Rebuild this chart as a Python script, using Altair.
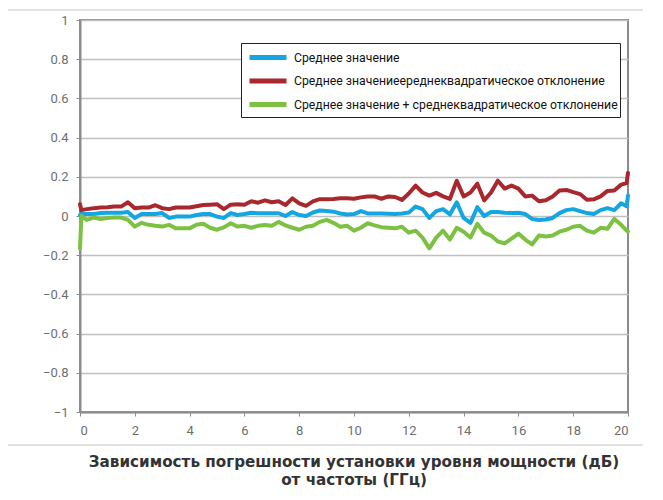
import altair as alt
import pandas as pd

freq = [0.0, 0.05] + [0.25 * i for i in range(1, 80)] + [19.95, 20.0]

mean_vals = [
    0.005, 0.01,
    0.01, 0.01, 0.015, 0.017, 0.017, 0.017, 0.02, -0.01,
    0.01, 0.01, 0.01, 0.015, -0.01, -0.003, -0.003, -0.003,
    0.005, 0.01, 0.01, -0.003, -0.01, 0.015, 0.005, 0.01,
    0.017, 0.014, 0.014, 0.014, 0.014, 0.0, 0.02, 0.005,
    0.0, 0.018, 0.028, 0.025, 0.022, 0.013, 0.008, 0.01,
    0.025, 0.013, 0.013, 0.013, 0.012, 0.01, 0.013, 0.018,
    0.048, 0.035, -0.01, 0.025, 0.035, 0.008, 0.07, -0.01,
    -0.035, 0.045, 0.0, 0.02, 0.02, 0.017, 0.015, 0.017,
    0.01, -0.015, -0.02, -0.018, -0.01, 0.015, 0.03, 0.035,
    0.025, 0.015, 0.01, 0.03, 0.04, 0.03, 0.065,
    0.05, 0.105,
]

upper_vals = [
    0.06, 0.03,
    0.035, 0.04, 0.043, 0.045, 0.048, 0.048, 0.07, 0.04,
    0.043, 0.043, 0.055, 0.04, 0.035, 0.043, 0.043, 0.043,
    0.05, 0.056, 0.058, 0.06, 0.035, 0.058, 0.06, 0.057,
    0.075, 0.068, 0.08, 0.07, 0.075, 0.056, 0.09, 0.065,
    0.052, 0.075, 0.086, 0.086, 0.087, 0.09, 0.09, 0.088,
    0.095, 0.1, 0.1, 0.088, 0.1, 0.097, 0.082, 0.115,
    0.155, 0.12, 0.104, 0.118, 0.1, 0.087, 0.18, 0.1,
    0.12, 0.165, 0.08, 0.12, 0.18, 0.14, 0.155, 0.14,
    0.1, 0.104, 0.075, 0.08, 0.1, 0.13, 0.133, 0.122,
    0.112, 0.083, 0.085, 0.1, 0.128, 0.13, 0.16,
    0.168, 0.22,
]

lower_vals = [
    -0.165, 0.0,
    -0.02, -0.008, -0.015, -0.01, -0.008, -0.008, -0.02, -0.054,
    -0.035, -0.045, -0.05, -0.054, -0.045, -0.063, -0.063, -0.063,
    -0.045, -0.04, -0.06, -0.07, -0.058, -0.037, -0.054, -0.05,
    -0.06, -0.05, -0.046, -0.05, -0.03, -0.048, -0.06, -0.07,
    -0.055, -0.05, -0.03, -0.02, -0.035, -0.055, -0.05, -0.075,
    -0.06, -0.037, -0.048, -0.057, -0.06, -0.063, -0.055, -0.085,
    -0.075, -0.11, -0.165, -0.11, -0.075, -0.12, -0.06, -0.08,
    -0.11, -0.04, -0.085, -0.1, -0.13, -0.14, -0.115, -0.09,
    -0.12, -0.145, -0.1, -0.105, -0.1, -0.08, -0.07, -0.055,
    -0.05, -0.075, -0.085, -0.06, -0.065, -0.015, -0.045,
    -0.075, -0.08,
]

series_names = [
    "Среднее значение",
    "Среднее значениеереднеквадратическое отклонение",
    "Среднее значение + среднеквадратическое отклонение",
]
series_colors = ["#14A6E0", "#A9282E", "#7DC142"]
x_ticks = [0, 2, 4, 6, 8, 10, 12, 14, 16, 18, 20]
y_ticks = [-1, -0.8, -0.6, -0.4, -0.2, 0, 0.2, 0.4, 0.6, 0.8, 1]
title_lines = [
    "Зависимость погрешности установки уровня мощности (дБ)",
    "от частоты (ГГц)",
]

rows = []
for name, vals in zip(series_names, [mean_vals, upper_vals, lower_vals]):
    for f, v in zip(freq, vals):
        rows.append({"f": f, "v": v, "s": name})
df = pd.DataFrame(rows)

W, H = 548, 392

frame = alt.Chart(alt.Data(values=[{"a": 1}])).mark_rect(
    fill=None, stroke="#D9D9D9", strokeWidth=1.5
).encode(
    x=alt.value(-73), x2=alt.value(580), y=alt.value(-10), y2=alt.value(425)
)

lines = alt.Chart(df).mark_line(strokeWidth=4, strokeJoin="round", strokeCap="round").encode(
    x=alt.X(
        "f:Q",
        scale=alt.Scale(domain=[0, 20], nice=False, zero=False),
        axis=alt.Axis(
            values=x_ticks, title=None, grid=False, format="d",
            domainColor="#8C8C8C", domainWidth=2, tickColor="#8C8C8C",
            tickSize=4, tickWidth=1, labelPadding=8,
            labelFont="Roboto", labelFontSize=13, labelColor="#6E6E6E",
        ),
    ),
    y=alt.Y(
        "v:Q",
        scale=alt.Scale(domain=[-1, 1], nice=False),
        axis=alt.Axis(
            values=y_ticks, title=None, format="~g",
            domainColor="#8C8C8C", domainWidth=2, tickColor="#8C8C8C",
            tickSize=4, tickWidth=1, labelPadding=8,
            gridColor="#C0C0C0", gridWidth=1.5,
            labelFont="Roboto", labelFontSize=13, labelColor="#6E6E6E",
        ),
    ),
    color=alt.Color(
        "s:N",
        scale=alt.Scale(domain=series_names, range=series_colors),
        legend=alt.Legend(
            title=None, orient="none", legendX=161, legendY=23,
            symbolType="M-0.6,0H3.1", symbolSize=400, symbolStrokeWidth=5,
            labelFont="Roboto", labelFontSize=12.25, labelColor="#111111",
            labelOffset=26, labelLimit=500, rowPadding=0.5, padding=2,
            strokeColor="#222222", fillColor="white",
        ),
    ),
)

chart = alt.layer(frame, lines).properties(
    width=W, height=H,
    title=alt.TitleParams(
        text=title_lines, orient="bottom", anchor="middle",
        font="DejaVu Sans", fontSize=15.2, fontWeight="bold", color="#333333",
        offset=9, lineHeight=18,
    ),
    padding={"left": 72, "top": 12, "right": 15, "bottom": 76},
    autosize=alt.AutoSizeParams(type="none"),
).configure_view(
    stroke="#8C8C8C", strokeWidth=2
)

chart.save("out.html", embed_options={"renderer": "svg", "actions": False})
